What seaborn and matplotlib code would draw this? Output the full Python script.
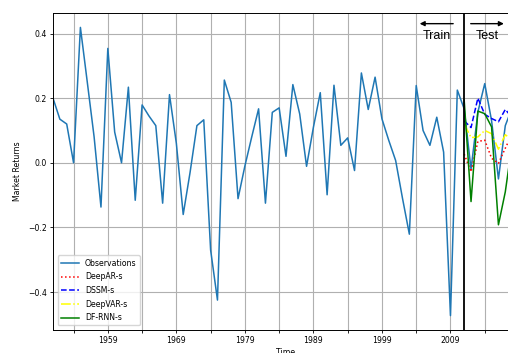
import matplotlib
matplotlib.use("Agg")
import matplotlib.pyplot as plt
import seaborn as sns
import numpy as np
import pandas as pd

# ---- data ----
years = list(range(1951, 2020))
observations = [0.200, 0.135, 0.120, 0.000, 0.419, 0.250, 0.080, -0.137, 0.354, 0.095,
                0.000, 0.234, -0.116, 0.179, 0.145, 0.115, -0.125, 0.211, 0.060, -0.160,
                -0.030, 0.115, 0.133, -0.270, -0.425, 0.256, 0.187, -0.111, -0.010, 0.080,
                0.167, -0.125, 0.156, 0.170, 0.020, 0.242, 0.151, -0.011, 0.110, 0.217,
                -0.099, 0.240, 0.054, 0.077, -0.024, 0.278, 0.165, 0.265, 0.136, 0.069,
                0.007, -0.110, -0.221, 0.239, 0.100, 0.054, 0.141, 0.033, -0.473, 0.225,
                0.167, -0.020, 0.157, 0.245, 0.130, -0.050, 0.115, 0.170, 0.200]
test_years = list(range(2011, 2020))
deepar_s = [0.027, -0.028, 0.066, 0.070, 0.014, -0.002, 0.045, 0.090, 0.080]
dssm_s = [0.130, 0.109, 0.200, 0.150, 0.137, 0.127, 0.165, 0.140, 0.150]
deepvar_s = [0.120, 0.078, 0.080, 0.100, 0.090, 0.042, 0.087, 0.070, 0.080]
dfrnn_s = [0.194, -0.120, 0.160, 0.152, 0.111, -0.192, -0.090, 0.060, 0.100]
split_year = 2011
tick_years = list(range(1954, 2019, 5))
tick_labels = [str(y) if (y - 1959) % 10 == 0 else "" for y in tick_years]

# ---- figure ----
W, H = 508, 353
fig = plt.figure(figsize=(W / 100, H / 100), dpi=100)
ax = fig.add_axes([53 / W, 23 / H, 466 / W, 317 / H])

fs = 5.6
sns.lineplot(x=years, y=observations, ax=ax, color="#1f77b4", lw=1.1, label="Observations")
sns.lineplot(x=test_years, y=deepar_s, ax=ax, color="red", lw=1.1, linestyle=":", label="DeepAR-s")
sns.lineplot(x=test_years, y=dssm_s, ax=ax, color="blue", lw=1.1, linestyle="--", label="DSSM-s")
sns.lineplot(x=test_years, y=deepvar_s, ax=ax, color="yellow", lw=1.1, linestyle="-.", label="DeepVAR-s")
sns.lineplot(x=test_years, y=dfrnn_s, ax=ax, color="green", lw=1.1, label="DF-RNN-s")

ax.axvline(split_year, color="black", lw=1.3)
ax.set_xlim(years[0], years[-1])
ax.set_xticks(tick_years)
ax.set_xticklabels(tick_labels)
ax.tick_params(labelsize=fs, length=2.5, width=0.6, pad=2)
ax.grid(True, color="#b0b0b0", lw=0.8)
ax.set_xlabel("Time", fontsize=fs, labelpad=2)
ax.set_ylabel("Market Returns", fontsize=fs, labelpad=4)
for s in ax.spines.values():
    s.set_linewidth(0.7)

leg = ax.legend(loc="lower left", fontsize=fs, handlelength=2.3, labelspacing=0.6,
                borderaxespad=0.6, framealpha=0.8)

# Train / Test annotations
ya = 0.4306
ax.annotate("", xy=(2004.1, ya), xytext=(2009.8, ya),
            arrowprops=dict(arrowstyle="-|>", color="black", lw=1.0, mutation_scale=7))
ax.annotate("", xy=(2017.2, ya), xytext=(2011.55, ya),
            arrowprops=dict(arrowstyle="-|>", color="black", lw=1.0, mutation_scale=7),
            annotation_clip=False)
ax.text(2007.0, 0.392, "Train", ha="center", va="center", fontsize=9, family="Liberation Sans")
ax.text(2014.3, 0.392, "Test", ha="center", va="center", fontsize=9, family="Liberation Sans")

fig.savefig("out.png", dpi=100)
